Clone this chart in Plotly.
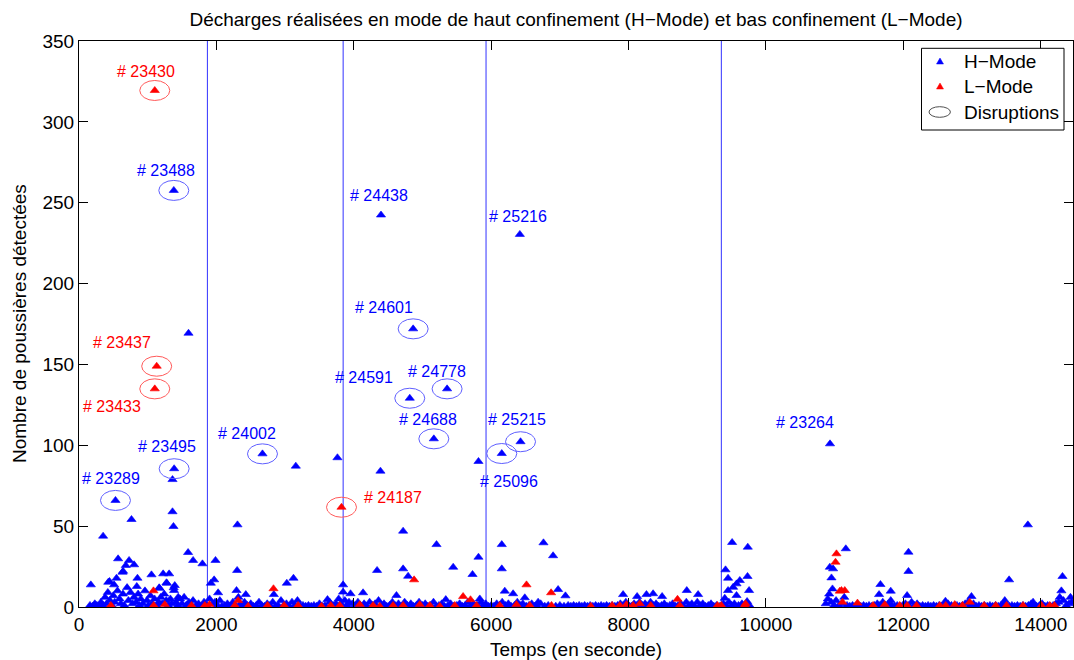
import plotly.graph_objects as go

# ---- Labelled discharges (shot number, mode, time, dust count, disruption) ----
shot_ids = ["23430", "23488", "24438", "25216", "24601", "23437", "23433", "24591",
            "24778", "24688", "25215", "25096", "23495", "23289", "24002", "24187", "23264"]
shot_mode = ["L", "H", "H", "H", "H", "L", "L", "H",
             "H", "H", "H", "H", "H", "H", "H", "L", "H"]
shot_t = [1103, 1380, 4396, 6417, 4864, 1131, 1103, 4815,
          5358, 5165, 6427, 6154, 1385, 531, 2671, 3821, 10932]
shot_n = [319.4, 257.6, 242.4, 230.4, 172.0, 148.9, 134.9, 129.1,
          134.9, 104.0, 102.2, 94.9, 85.5, 65.9, 94.7, 61.7, 100.9]
shot_disrupted = [1, 1, 0, 0, 1, 1, 1, 1, 1, 1, 1, 1, 1, 1, 1, 1, 0]

# ---- Other H-Mode discharges ----
h_t = [1594, 1361, 3156, 3762, 4388, 5815, 1361, 764, 1375, 2307, 351, 13812,
       4718, 5204, 6154, 6761, 6901, 5815, 4339, 4718, 5447, 4791, 5728, 6154,
       9507, 9735, 9411, 9448, 9731, 9619, 9571, 9522, 9448, 9754, 9571, 9400, 9725,
       11162, 10929, 10977, 10953, 10968, 12074, 12074, 11666, 11646, 11816, 11816, 12054,
       13539, 14316, 12612, 12991, 13476, 13888, 14276, 14432,
       569, 729, 681, 802, 633, 546, 444, 172, 511, 851, 1055, 1225, 1312, 1273,
       1588, 1661, 1797, 1987, 2302, 1919, 1967, 2025, 2836, 3025, 3122,
       1172, 1384, 1394, 841, 2293, 2428, 3617, 3844, 3844, 3952, 4135, 4621,
       5834, 5339, 6489, 6683, 6198, 6319, 6974, 7081, 8847, 9012,
       7920, 8124, 8260, 8357, 8488, 1444, 1278, 1167, 1378, 426, 642]
h_n = [169.3, 78.8, 87.1, 92.3, 84.0, 90.0, 58.9, 54.1, 49.8, 50.8, 43.8, 50.8,
       46.9, 38.6, 38.6, 39.7, 31.7, 30.8, 22.6, 23.6, 24.6, 19.0, 20.1, 23.6,
       39.9, 37.0, 23.0, 17.8, 18.9, 16.4, 14.3, 12.2, 10.2, 10.2, 7.1, 5.4, 3.4,
       36.0, 24.6, 23.6, 18.0, 11.2, 33.9, 22.0, 13.9, 7.7, 9.8, 4.0, 7.1,
       16.8, 18.9, 3.6, 6.5, 4.0, 3.0, 6.0, 6.0,
       29.8, 28.8, 25.7, 26.1, 21.5, 17.8, 15.8, 13.7, 13.7, 17.8, 19.9, 20.5, 20.5, 15.0,
       33.7, 28.8, 26.7, 28.8, 22.6, 14.7, 16.8, 8.8, 7.7, 14.7, 17.8,
       11.6, 10.2, 13.3, 12.7, 10.2, 7.7, 4.6, 13.7, 9.2, 8.2, 8.8, 7.1,
       5.0, 4.6, 5.7, 3.0, 9.8, 8.2, 10.8, 6.9, 10.2, 7.7,
       7.7, 6.5, 7.7, 8.2, 6.5, 6.1, 14.7, 11.9, 11.9, 15.3, 22.1]

# H-Mode discharges with few detections
h_low_t = [160, 200, 230, 260, 290, 320, 350, 380, 400, 420, 450, 480, 500, 520, 560, 590,
           610, 640, 660, 700, 720, 750, 780, 800, 830, 860, 880, 900, 930, 960, 990, 1010,
           1040, 1070, 1100, 1130, 1160, 1190, 1210, 1240, 1270, 1300, 1330, 1350, 1410, 1440,
           1470, 1500, 1530, 1560, 1600, 1630, 1660, 1700, 1740, 1780, 1820, 1860, 1900, 1940,
           1980, 2010, 2050, 2080, 2120, 2160, 2200, 2240, 2270, 2320, 2350, 2380, 2410, 2450,
           2500, 2540, 2580, 2620, 2660, 2700, 2740, 2780, 2820, 2860, 2900, 2940, 2980, 3020,
           3060, 3100, 3140, 3180, 3220, 3260, 3300, 3340, 3380, 3420, 3460, 3500, 3540, 3580,
           3650, 3700, 3740, 3780, 3810, 3870, 3900, 3930, 3980, 4020, 4060, 4100, 4150, 4190,
           4230, 4270, 4310, 4360, 4400, 4440, 4480, 4520, 4560, 4600, 4650, 4690, 4740, 4780,
           4830, 4870, 4910, 4950, 5000, 5040, 5080, 5120, 5160, 5200, 5240, 5280, 5320, 5370,
           5410, 5450, 5500, 5540, 5580, 5620, 5660, 5700, 5740, 5770, 5800, 5850, 5880, 5920,
           5960, 6000, 6040, 6080, 6120, 6160, 6210, 6250, 6290, 6340, 6380, 6420, 6460, 6510,
           6550, 6590, 6630, 6660, 6720, 6780, 6830, 6940, 7000, 7060, 7120, 7160, 7200, 7240,
           7280, 7320, 7360, 7400, 7440, 7480, 7520, 7560, 7600, 7640, 7680, 7720, 7760, 7800,
           7840, 7880, 7920, 7960, 8000, 8040, 8080, 8120, 8160, 8200, 8240, 8280, 8320, 8360,
           8400, 8440, 8480, 8520, 8560, 8600, 8640, 8680, 8720, 8760, 8800, 8840, 8880, 8920,
           8960, 9000, 9040, 9080, 9120, 9160, 9200, 9240, 9280, 9330, 9380, 9420, 9460, 9500,
           9540, 9600, 9650, 9700, 9760,
           10870, 10900, 10920, 10950, 10990, 11020, 11060, 11100, 11140, 11180, 11220, 11260,
           11300, 11340, 11380, 11420, 11460, 11500, 11540, 11580, 11620, 11660, 11700, 11740,
           11780, 11830, 11870, 11910, 11950, 11990, 12030, 12080, 12120, 12160, 12200, 12240,
           12280, 12320, 12360, 12400, 12440, 12480, 12520, 12560, 12600, 12650, 12700, 12740,
           12780, 12820, 12860, 12900, 12940, 12980, 13020, 13060, 13100, 13140, 13180, 13220,
           13260, 13300, 13340, 13380, 13420, 13460, 13500, 13540, 13580, 13620, 13660, 13700,
           13740, 13780, 13820, 13860, 13900, 13940, 13980, 14020, 14060, 14100, 14140, 14180,
           14220, 14260, 14300, 14330, 14370, 14410, 14450]
h_low_n = [1, 0.5, 2, 1, 0.5, 3, 1, 6, 2, 9, 4, 1, 7, 3, 10, 5,
           2, 8, 1, 12, 4, 9, 2, 6, 3, 8, 1, 5, 2, 10, 4, 1,
           7, 2, 5, 1, 3, 6, 2, 8, 4, 1, 5, 2, 3, 1,
           5, 2, 6, 1, 3, 1, 4, 1, 2, 0.5, 3, 1, 5, 2,
           3, 1, 4, 0.5, 1, 2, 0.5, 3, 1, 6, 2, 1, 3, 1,
           2, 0.5, 1, 3, 1, 0.5, 2, 1, 3, 0.5, 1, 4, 1, 2,
           0.5, 3, 1, 4, 0.5, 1, 0.5, 1, 0.5, 1, 0.5, 2, 0.5, 1,
           3, 1, 2, 5, 2, 4, 1, 3, 2, 1, 3, 1, 2, 0.5,
           3, 1, 2, 4, 1, 2, 0.5, 1, 3, 1, 2, 0.5, 3, 1,
           2, 0.5, 1, 3, 1, 2, 0.5, 1, 3, 0.5, 1, 2, 0.5, 1,
           2, 0.5, 1, 2, 0.5, 1, 3, 1, 2, 0.5, 1, 3, 1, 2,
           0.5, 1, 0.5, 2, 1, 3, 1, 2, 0.5, 1, 3, 1, 2, 0.5,
           1, 2, 0.5, 1, 2, 0.5, 1, 0.5, 1, 0.5, 1, 0.5, 1, 0.5,
           1, 0.5, 1, 0.5, 1, 0.5, 1, 0.5, 1, 0.5, 1, 0.5, 1, 0.5,
           1, 2, 1, 3, 1, 0.5, 2, 1, 3, 1, 2, 0.5, 3, 1,
           2, 0.5, 1, 2, 0.5, 1, 2, 0.5, 1, 2, 0.5, 3, 1, 2,
           0.5, 3, 1, 2, 0.5, 1, 2, 0.5, 1, 0.5, 2, 1, 3, 1,
           2, 1, 2, 0.5, 1,
           2, 5, 8, 3, 1, 4, 1, 2, 6, 1, 0.5, 1,
           0.5, 1, 0.5, 1, 0.5, 1, 0.5, 1, 2, 1, 3, 1,
           2, 1, 0.5, 1, 0.5, 1, 2, 1, 3, 1, 2, 0.5,
           1, 0.5, 1, 0.5, 1, 0.5, 1, 0.5, 1, 2, 1, 0.5,
           1, 0.5, 1, 2, 3, 1, 2, 0.5, 1, 0.5, 1, 0.5,
           1, 0.5, 1, 0.5, 1, 2, 1, 0.5, 1, 0.5, 1, 0.5,
           1, 0.5, 1, 2, 1, 0.5, 1, 2, 0.5, 1, 0.5, 1,
           2, 3, 10, 4, 1, 2, 3]

# ---- Other L-Mode discharges ----
l_t = [4878, 6514, 6872, 2831, 1084, 2316, 5591, 5699, 8712, 9702,
       11026, 11012, 11099, 11147, 11114, 11332, 12966, 11074,
       464, 1087, 1249, 1638, 1831, 1900, 2268, 2462, 2744, 2986, 3189, 3530, 3665,
       3796, 4087, 4281, 4378, 4572, 4718, 4961, 5106, 5252, 5470, 5786,
       6125, 6368, 6562, 6878, 7451, 7760, 7872, 7969, 8066, 8163, 8323, 8746,
       9294, 9350, 9691, 11559, 11729, 11947, 12054, 12191, 12530, 12617, 12748, 12860,
       13175, 13345, 13501, 13742, 14010, 14131, 14200]
l_n = [16.8, 13.7, 8.8, 11.3, 10.0, 4.0, 6.5, 4.5, 4.8, 2.0,
       32.9, 27.7, 10.2, 10.2, 3.0, 2.4, 3.0, 9.8,
       1, 1, 1.5, 1, 1, 1.5, 1, 0.5, 1, 1, 1, 0.5, 1,
       1, 1.5, 1, 0.5, 1, 1, 1.5, 1, 0.5, 1, 1,
       1, 1.5, 1, 1, 0.5, 1, 1, 1.5, 1, 2, 1, 1,
       1, 1, 1, 1, 1.5, 1, 1, 1, 1, 1, 1.5, 1,
       1, 1, 1, 1, 1, 1, 1]

# Boundaries between experimental sessions (s)
session_bounds = [1869, 3845, 5925, 9350]

x_ticks = [0, 2000, 4000, 6000, 8000, 10000, 12000, 14000]
y_ticks = [0, 50, 100, 150, 200, 250, 300, 350]

BLUE = "rgb(0,0,255)"
RED = "rgb(255,0,0)"
FONT = "Liberation Sans, Arial, Helvetica, sans-serif"

hx = [t for t, m in zip(shot_t, shot_mode) if m == "H"] + h_t + h_low_t
hy = [n for n, m in zip(shot_n, shot_mode) if m == "H"] + h_n + h_low_n
lx = [t for t, m in zip(shot_t, shot_mode) if m == "L"] + l_t
ly = [n for n, m in zip(shot_n, shot_mode) if m == "L"] + l_n

fig = go.Figure()
fig.add_trace(go.Scatter(x=hx, y=hy, mode="markers", name="H−Mode", showlegend=False,
                         marker=dict(symbol="triangle-up", size=8, color=BLUE,
                                     line=dict(width=0.6, color=BLUE))))
fig.add_trace(go.Scatter(x=lx, y=ly, mode="markers", name="L−Mode", showlegend=False,
                         marker=dict(symbol="triangle-up", size=8, color=RED,
                                     line=dict(width=0.6, color=RED))))

shapes = []
for b in session_bounds:
    shapes.append(dict(type="line", xref="x", yref="y", x0=b, x1=b, y0=0, y1=350,
                       line=dict(color="rgb(50,50,255)", width=1), layer="below"))

# Ellipses around disrupted discharges
for t, n, m, d in zip(shot_t, shot_n, shot_mode, shot_disrupted):
    if d:
        col = "rgb(255,90,90)" if m == "L" else "rgb(95,95,255)"
        shapes.append(dict(type="circle", xref="x", yref="y",
                           xsizemode="pixel", ysizemode="pixel",
                           xanchor=t, yanchor=n, x0=-15, x1=15, y0=-10, y1=10,
                           line=dict(color=col, width=1)))

# Pixel offsets of the shot labels from their markers
label_offsets = {
    "23430": (-9, 19), "23488": (-8, 20), "24438": (-2, 20), "25216": (-2, 17.5),
    "24601": (-29, 21.6), "23437": (-34.4, 23.4), "23433": (-42.7, -17.7),
    "24591": (-46, 20.4), "24778": (-10, 17.3), "24688": (-6, 19.3),
    "25215": (-3.5, 22.3), "25096": (7.5, -27.7), "23495": (-7.6, 22.6),
    "23289": (-4, 21.7), "24002": (-15.4, 20.6), "24187": (51.3, 10), "23264": (-25, 21),
}
annotations = []
for s, t, n, m in zip(shot_ids, shot_t, shot_n, shot_mode):
    dx, dy = label_offsets[s]
    annotations.append(dict(x=t, y=n, xref="x", yref="y", text="# " + s, showarrow=False,
                            xshift=dx, yshift=dy, xanchor="center", yanchor="middle",
                            font=dict(family=FONT, size=16, color=RED if m == "L" else BLUE)))

# Plot area in pixels: left 79, right 1073, top 41, bottom 607
L, R, T, B = 79, 1073, 41, 607


def px(x):
    return (x - L) / (R - L)


def py(y):
    return (B - y) / (B - T)


# Legend box
shapes.append(dict(type="rect", xref="paper", yref="paper", x0=px(921.5), x1=px(1064),
                   y0=py(130), y1=py(48.3), line=dict(color="black", width=1),
                   fillcolor="white"))
for yy, col in [(61, BLUE), (86, RED)]:
    path = "M {:.5f} {:.5f} L {:.5f} {:.5f} L {:.5f} {:.5f} Z".format(
        px(936.5), py(yy + 3), px(943.5), py(yy + 3), px(940), py(yy - 3))
    shapes.append(dict(type="path", xref="paper", yref="paper", path=path,
                       fillcolor=col, line=dict(color=col, width=0.5)))
shapes.append(dict(type="circle", xref="paper", yref="paper", x0=px(929), x1=px(950.4),
                   y0=py(117.3), y1=py(106.7), line=dict(color="rgb(80,80,80)", width=1)))
for txt, yy in [("H−Mode", 61.5), ("L−Mode", 86.5), ("Disruptions", 112)]:
    annotations.append(dict(x=px(962), y=py(yy), xref="paper", yref="paper", text=txt,
                            showarrow=False, xanchor="left", yanchor="middle",
                            font=dict(family=FONT, size=19, color="black")))

# Axis titles
annotations.append(dict(x=0.5, y=0, xref="paper", yref="paper", text="Temps (en seconde)",
                        showarrow=False, xanchor="center", yanchor="middle", yshift=-42,
                        font=dict(family=FONT, size=19, color="black")))
annotations.append(dict(x=0, y=0.5, xref="paper", yref="paper",
                        text="Nombre de poussières détectées", textangle=-90,
                        showarrow=False, xanchor="center", yanchor="middle", xshift=-60,
                        font=dict(family=FONT, size=19, color="black")))

axis_common = dict(showgrid=False, zeroline=False, showline=True, linecolor="black",
                   linewidth=1, mirror="allticks", ticks="inside", ticklen=9,
                   tickcolor="black", tickwidth=1,
                   tickfont=dict(family=FONT, size=19, color="black"))

fig.update_layout(
    width=1074, height=660,
    margin=dict(l=L, r=1074 - R, t=T, b=660 - B),
    paper_bgcolor="white", plot_bgcolor="white",
    title=dict(text="Décharges réalisées en mode de haut confinement (H−Mode) et bas confinement (L−Mode)",
               x=0.5, xref="paper", xanchor="center", y=1 - 19.5 / 660, yanchor="middle",
               font=dict(family=FONT, size=19, color="black")),
    xaxis=dict(range=[0, 14469], tickvals=x_ticks, ticktext=[str(v) for v in x_ticks],
               **axis_common),
    yaxis=dict(range=[0, 350], tickvals=y_ticks, ticktext=[str(v) for v in y_ticks],
               **axis_common),
    shapes=shapes,
    annotations=annotations,
    showlegend=False,
)

fig.write_html("out.html")
